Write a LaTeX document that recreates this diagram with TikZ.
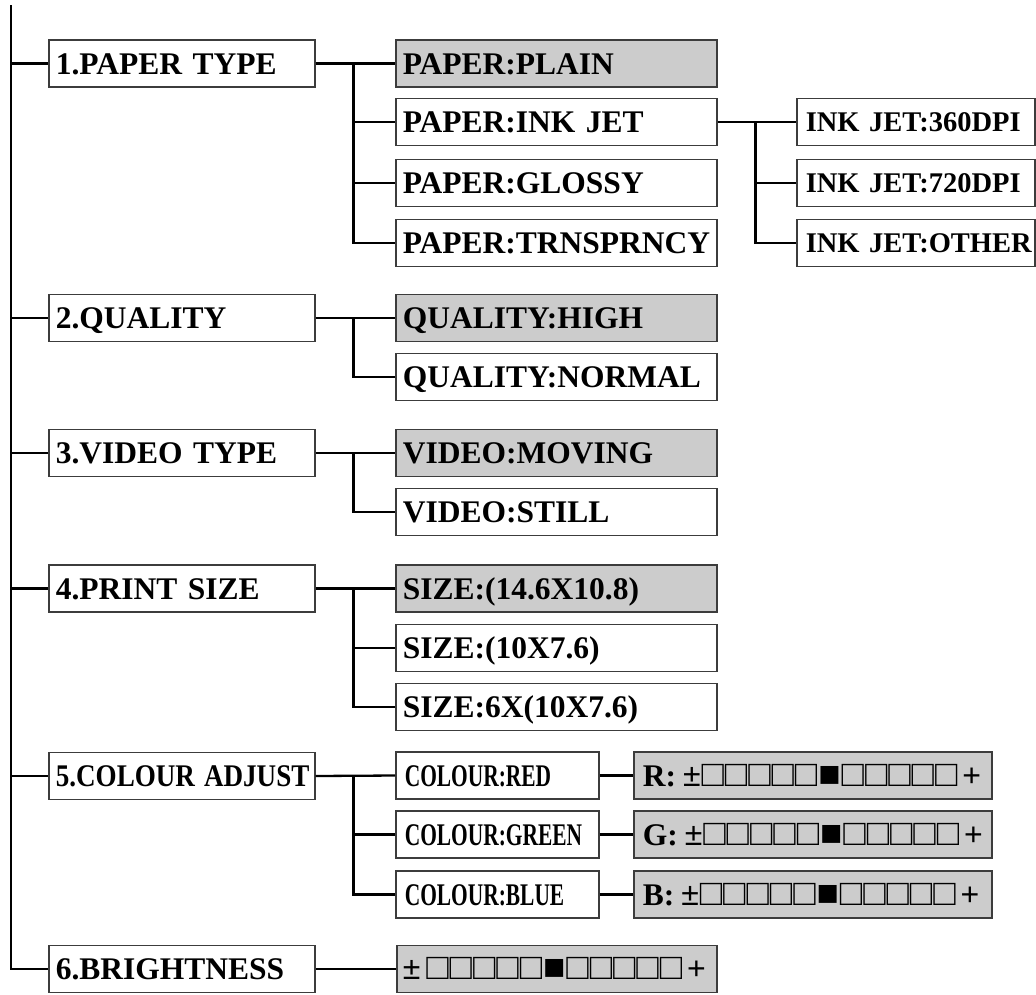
\documentclass[tikz,border=0pt]{standalone}
\usepackage{fontspec}
\setmainfont{Liberation Serif}
\newfontfamily\barfont{Liberation Sans}
\usepackage{graphicx}
\definecolor{selgray}{RGB}{204,204,204}
\definecolor{boxline}{RGB}{60,60,60}
\newcommand\hsq{{\fontsize{37}{37}\selectfont □}\kern1pt}
\newcommand\fsq{{\fontsize{37}{37}\selectfont ■}\kern1pt}
\newcommand\mybar[1]{\mbox{\barfont\mdseries\fontsize{32}{32}\selectfont ±\kern#1\hsq\hsq\hsq\hsq\hsq\fsq\hsq\hsq\hsq\hsq\hsq\kern4pt+}}
\tikzset{
  conn/.style={line width=2.3pt, black},
  boxbase/.style={draw=boxline, line width=1.6pt, inner ysep=0pt, minimum height=47pt,
    anchor=west, align=left, text height=21.5pt, text depth=0pt,
    font=\bfseries\fontsize{31.5}{32}\selectfont},
  lonebox/.style={boxbase, fill=white, inner xsep=7pt, text width=252pt},
  ltwobox/.style={boxbase, fill=white, inner xsep=7pt, text width=307pt},
  ltwosel/.style={ltwobox, fill=selgray},
  colbox/.style={boxbase, fill=white, inner xsep=9pt, text width=185pt},
  rgbbox/.style={boxbase, fill=selgray, inner xsep=9pt, text width=340pt},
  inkbox/.style={boxbase, fill=white, inner xsep=9pt, text width=220pt, text height=19pt,
    font=\bfseries\fontsize{28.5}{29}\selectfont},
  brbox/.style={boxbase, fill=selgray, inner xsep=6pt, text width=308pt},
}
\begin{document}
\begin{tikzpicture}[x=1pt,y=-1pt]
\useasboundingbox (0,0) rectangle (1036,994);
% level 1
\node[lonebox] (l1) at (48,63.5) {1.PAPER TYPE};
\node[lonebox] (l2) at (48,318) {2.QUALITY};
\node[lonebox] (l3) at (48,453) {3.VIDEO TYPE};
\node[lonebox] (l4) at (48,588.5) {4.PRINT SIZE};
\node[lonebox] (l5) at (48,776) {\scalebox{0.86}[1]{5.COLOUR ADJUST}};
\node[lonebox] (l6) at (48,969) {6.BRIGHTNESS};
% level 2
\node[ltwosel] (p1) at (395,63.5) {PAPER:PLAIN};
\node[ltwobox] (p2) at (395,122) {PAPER:INK JET};
\node[ltwobox] (p3) at (395,183) {PAPER:GLOSSY};
\node[ltwobox] (p4) at (395,243) {PAPER:TRNSPRNCY};
\node[ltwosel] (q1) at (395,318) {QUALITY:HIGH};
\node[ltwobox] (q2) at (395,377) {QUALITY:NORMAL};
\node[ltwosel] (v1) at (395,453) {VIDEO:MOVING};
\node[ltwobox] (v2) at (395,512) {VIDEO:STILL};
\node[ltwosel] (s1) at (395,588.5) {SIZE:(14.6X10.8)};
\node[ltwobox] (s2) at (395,648) {SIZE:(10X7.6)};
\node[ltwobox] (s3) at (395,707) {SIZE:6X(10X7.6)};
\node[colbox] (cr) at (395,775.5) {\scalebox{0.68}[1]{COLOUR:RED}};
\node[colbox] (cg) at (395,834.5) {\scalebox{0.68}[1]{COLOUR:GREEN}};
\node[colbox] (cb) at (395,894.5) {\scalebox{0.68}[1]{COLOUR:BLUE}};
\node[brbox] (br) at (396,969) {\mybar{6pt}};
% level 3
\node[inkbox] (i1) at (796,122) {\mbox{INK JET:360DPI}};
\node[inkbox] (i2) at (796,183) {\mbox{INK JET:720DPI}};
\node[inkbox] (i3) at (796,243) {\mbox{INK JET:OTHER}};
\node[rgbbox] (rr) at (633,775.5) {\mbox{R:\kern7pt\mybar{1pt}}};
\node[rgbbox] (rg) at (633,834.5) {\mbox{G:\kern7pt\mybar{1pt}}};
\node[rgbbox] (rb) at (633,894.5) {\mbox{B:\kern7pt\mybar{1pt}}};
% spine
\coordinate (top) at (11,5);
\draw[conn] (top) |- (l6.west);
\foreach \n in {l1,l2,l3,l4,l5} \draw[conn] (\n.west) -- (\n.west -| top);
% group 1
\path (l1.east) ++(38,0) coordinate (b1);
\draw[conn] (l1.east) -- (p1.west);
\foreach \n in {p2,p3,p4} \draw[conn] (b1) |- (\n.west);
\path (p2.east) ++(38,0) coordinate (bi);
\draw[conn] (p2.east) -- (i1.west);
\foreach \n in {i2,i3} \draw[conn] (bi) |- (\n.west);
% group 2
\path (l2.east) ++(38,0) coordinate (b2);
\draw[conn] (l2.east) -- (q1.west);
\draw[conn] (b2) |- (q2.west);
% group 3
\path (l3.east) ++(38,0) coordinate (b3);
\draw[conn] (l3.east) -- (v1.west);
\draw[conn] (b3) |- (v2.west);
% group 4
\path (l4.east) ++(38,0) coordinate (b4);
\draw[conn] (l4.east) -- (s1.west);
\foreach \n in {s2,s3} \draw[conn] (b4) |- (\n.west);
% group 5
\path (l5.east) ++(38,0) coordinate (b5);
\draw[conn] (l5.east) -- (cr.west);
\foreach \n in {cg,cb} \draw[conn] (b5) |- (\n.west);
\draw[conn] (cr.east) -- (rr.west);
\draw[conn] (cg.east) -- (rg.west);
\draw[conn] (cb.east) -- (rb.west);
% group 6
\draw[conn] (l6.east) -- (br.west);
\end{tikzpicture}
\end{document}
